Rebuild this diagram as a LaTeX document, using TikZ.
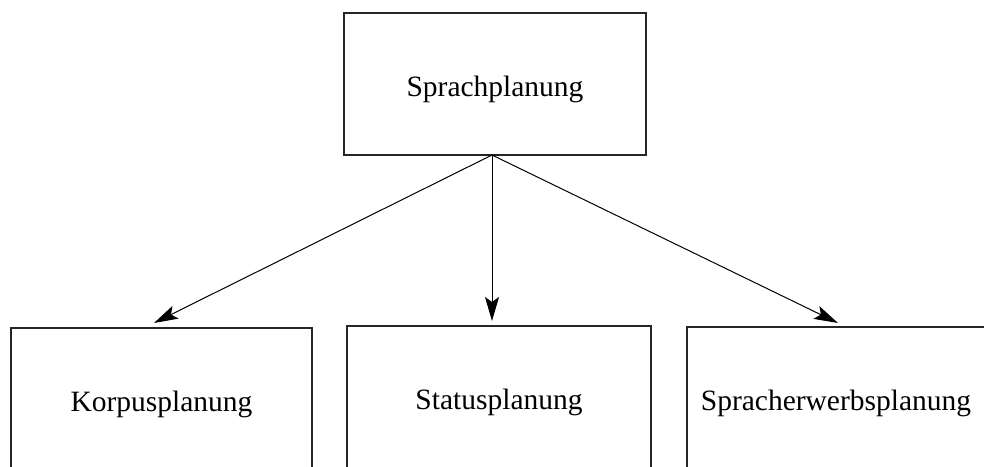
\documentclass[tikz,border=0pt]{standalone}
\usepackage{fontspec}
\setmainfont{Liberation Serif}
\usetikzlibrary{arrows.meta}
\begin{document}
\begin{tikzpicture}[x=1pt,y=-1pt,
  box/.style={draw=black!85, line width=1.3pt, minimum width=302pt, minimum height=142pt, inner sep=0pt, text height=24pt, text depth=0pt, font=\fontsize{29.5}{34}\selectfont},
  conn/.style={line width=1pt, -{Stealth[length=24pt,width=14pt,inset=5pt]}}]
\useasboundingbox (0,0) rectangle (984,466);
\clip (0,0) rectangle (984,466);
\node[box, text height=25pt] (sp) at (495,84) {Sprachplanung};
\node[box, minimum width=301pt] (kp) at (161.5,399) {Korpusplanung};
\node[box, minimum width=304pt] (st) at (499,397) {Statusplanung};
\node[box] (sw) at (838,398) {\hspace*{-4pt}Spracherwerbsplanung};
\coordinate (o) at (492,155);
\coordinate (tk) at (154,323);
\coordinate (ts) at (492,321);
\coordinate (tw) at (838,323);
\draw[conn] (o) -- (tk);
\draw[conn] (o) -- (ts);
\draw[conn] (o) -- (tw);
\end{tikzpicture}
\end{document}
